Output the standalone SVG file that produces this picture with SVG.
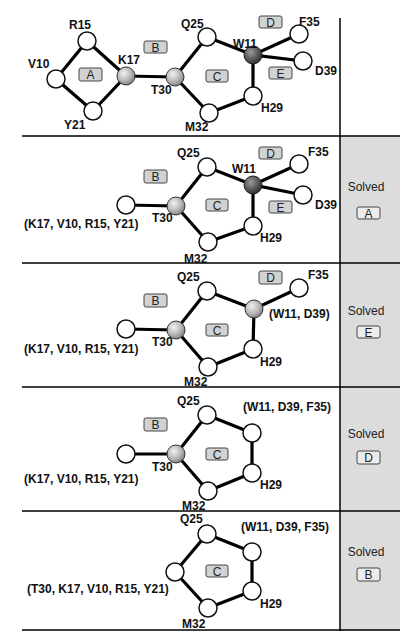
<svg xmlns="http://www.w3.org/2000/svg" width="408" height="638" viewBox="0 0 408 638">
<defs>
<radialGradient id="light" cx="0.38" cy="0.35" r="0.7">
<stop offset="0" stop-color="#f2f2f2"/>
<stop offset="0.6" stop-color="#b4b4b4"/>
<stop offset="1" stop-color="#7a7a7a"/>
</radialGradient>
<radialGradient id="dark" cx="0.38" cy="0.35" r="0.7">
<stop offset="0" stop-color="#9a9a9a"/>
<stop offset="0.6" stop-color="#555"/>
<stop offset="1" stop-color="#2a2a2a"/>
</radialGradient>
</defs>
<style>
.n{fill:#fff;stroke:#111;stroke-width:1.5}
.l{fill:url(#light);stroke:#333;stroke-width:1}
.d{fill:url(#dark);stroke:#222;stroke-width:1}
.e{stroke:#000;stroke-width:3.2;fill:none}
.t{font-family:"Liberation Sans",Arial,sans-serif;font-size:12px;font-weight:bold;fill:#111}
.r{font-family:"Liberation Sans",Arial,sans-serif;font-size:12px;fill:#222}
.bx{fill:#d2d2d2;stroke:#444;stroke-width:1}
.sb{fill:#ececec;stroke:#444;stroke-width:1}
.rule{stroke:#000;stroke-width:1.5}
</style>
<rect width="408" height="638" fill="#fff"/>
<rect x="340" y="136" width="60" height="495" fill="#dcdcdc"/>
<g id="frame">
<line class="rule" x1="340" y1="18" x2="340" y2="631"/>
<line class="rule" x1="22" y1="136" x2="400" y2="136"/>
<line class="rule" x1="22" y1="263" x2="400" y2="263"/>
<line class="rule" x1="22" y1="387" x2="400" y2="387"/>
<line class="rule" x1="22" y1="511" x2="400" y2="511"/>
<line class="rule" x1="22" y1="630" x2="400" y2="630"/>
</g>
<g id="connectors">
<!-- panel 1 -->
<line class="e" x1="56" y1="79" x2="87" y2="41"/>
<line class="e" x1="56" y1="79" x2="93" y2="111"/>
<line class="e" x1="87" y1="41" x2="126" y2="76"/>
<line class="e" x1="93" y1="111" x2="126" y2="76"/>
<line class="e" x1="126" y1="76" x2="175" y2="77"/>
<line class="e" x1="175" y1="77" x2="207" y2="37"/>
<line class="e" x1="175" y1="77" x2="209" y2="113"/>
<line class="e" x1="207" y1="37" x2="253" y2="55"/>
<line class="e" x1="253" y1="55" x2="299" y2="34"/>
<line class="e" x1="253" y1="55" x2="303" y2="61"/>
<line class="e" x1="253" y1="55" x2="253" y2="96"/>
<line class="e" x1="253" y1="96" x2="209" y2="113"/>
<!-- panel 2 -->
<line class="e" x1="126" y1="205" x2="176" y2="206"/>
<line class="e" x1="176" y1="206" x2="207" y2="167"/>
<line class="e" x1="176" y1="206" x2="208" y2="242"/>
<line class="e" x1="207" y1="167" x2="253" y2="185"/>
<line class="e" x1="253" y1="185" x2="299" y2="164"/>
<line class="e" x1="253" y1="185" x2="303" y2="195"/>
<line class="e" x1="253" y1="185" x2="253" y2="226"/>
<line class="e" x1="253" y1="226" x2="208" y2="242"/>
<!-- panel 3 -->
<line class="e" x1="126" y1="329" x2="176" y2="330"/>
<line class="e" x1="176" y1="330" x2="207" y2="291"/>
<line class="e" x1="176" y1="330" x2="208" y2="367"/>
<line class="e" x1="207" y1="291" x2="254" y2="309"/>
<line class="e" x1="254" y1="309" x2="299" y2="288"/>
<line class="e" x1="254" y1="309" x2="253" y2="349"/>
<line class="e" x1="253" y1="349" x2="208" y2="367"/>
<!-- panel 4 -->
<line class="e" x1="126" y1="454" x2="176" y2="454"/>
<line class="e" x1="176" y1="454" x2="207" y2="415"/>
<line class="e" x1="176" y1="454" x2="208" y2="491"/>
<line class="e" x1="207" y1="415" x2="252" y2="433"/>
<line class="e" x1="252" y1="433" x2="252" y2="473"/>
<line class="e" x1="252" y1="473" x2="208" y2="491"/>
<!-- panel 5 -->
<line class="e" x1="175" y1="572" x2="207" y2="534"/>
<line class="e" x1="175" y1="572" x2="208" y2="608"/>
<line class="e" x1="207" y1="534" x2="252" y2="552"/>
<line class="e" x1="252" y1="552" x2="252" y2="591"/>
<line class="e" x1="252" y1="591" x2="208" y2="608"/>
</g>
<!-- Panel 1 nodes -->
<g id="p1-R15"><circle class="n" cx="87" cy="41" r="9"/><text class="t" x="69" y="29">R15</text></g>
<g id="p1-V10"><circle class="n" cx="56" cy="79" r="9"/><text class="t" x="28" y="68">V10</text></g>
<g id="p1-Y21"><circle class="n" cx="93" cy="111" r="9"/><text class="t" x="64" y="129">Y21</text></g>
<g id="p1-K17"><circle class="l" cx="126" cy="76" r="9"/><text class="t" x="118" y="64">K17</text></g>
<g id="p1-T30"><circle class="l" cx="175" cy="77" r="9"/><text class="t" x="151" y="94">T30</text></g>
<g id="p1-Q25"><circle class="n" cx="207" cy="37" r="9"/><text class="t" x="181" y="28">Q25</text></g>
<g id="p1-W11"><circle class="d" cx="253" cy="55" r="9"/><text class="t" x="233" y="48">W11</text></g>
<g id="p1-F35"><circle class="n" cx="299" cy="34" r="9"/><text class="t" x="299" y="26">F35</text></g>
<g id="p1-D39"><circle class="n" cx="303" cy="61" r="9"/><text class="t" x="315" y="75">D39</text></g>
<g id="p1-H29"><circle class="n" cx="253" cy="96" r="9"/><text class="t" x="261" y="112">H29</text></g>
<g id="p1-M32"><circle class="n" cx="209" cy="113" r="9"/><text class="t" x="185" y="131">M32</text></g>
<g id="p1-boxes">
<rect class="bx" x="79" y="68" width="23" height="13" rx="2"/><text class="r" x="90.5" y="79" text-anchor="middle">A</text>
<rect class="bx" x="144" y="41" width="23" height="12" rx="2"/><text class="r" x="155.5" y="51.5" text-anchor="middle">B</text>
<rect class="bx" x="206" y="70" width="22" height="12" rx="2"/><text class="r" x="217" y="80.5" text-anchor="middle">C</text>
<rect class="bx" x="259" y="16" width="23" height="12" rx="2"/><text class="r" x="270.5" y="26.5" text-anchor="middle">D</text>
<rect class="bx" x="269" y="67" width="23" height="12" rx="2"/><text class="r" x="280.5" y="77.5" text-anchor="middle">E</text>
</g>
<!-- Panel 2 -->
<g id="p2-KVRY"><circle class="n" cx="126" cy="205" r="9"/><text class="t" x="24" y="228">(K17, V10, R15, Y21)</text></g>
<g id="p2-T30"><circle class="l" cx="176" cy="206" r="9"/><text class="t" x="152" y="222">T30</text></g>
<g id="p2-Q25"><circle class="n" cx="207" cy="167" r="9"/><text class="t" x="177" y="157">Q25</text></g>
<g id="p2-W11"><circle class="d" cx="253" cy="185" r="9"/><text class="t" x="232" y="173">W11</text></g>
<g id="p2-F35"><circle class="n" cx="299" cy="164" r="9"/><text class="t" x="308" y="156">F35</text></g>
<g id="p2-D39"><circle class="n" cx="303" cy="195" r="9"/><text class="t" x="315" y="209">D39</text></g>
<g id="p2-H29"><circle class="n" cx="253" cy="226" r="9"/><text class="t" x="260" y="242">H29</text></g>
<g id="p2-M32"><circle class="n" cx="208" cy="242" r="9"/><text class="t" x="184" y="263">M32</text></g>
<g id="p2-boxes">
<rect class="bx" x="144" y="170" width="23" height="13" rx="2"/><text class="r" x="155.5" y="181" text-anchor="middle">B</text>
<rect class="bx" x="206" y="199" width="22" height="12" rx="2"/><text class="r" x="217" y="209.5" text-anchor="middle">C</text>
<rect class="bx" x="259" y="147" width="23" height="12" rx="2"/><text class="r" x="270.5" y="157.5" text-anchor="middle">D</text>
<rect class="bx" x="269" y="201" width="23" height="12" rx="2"/><text class="r" x="280.5" y="211.5" text-anchor="middle">E</text>
</g>
<g id="p2-solved"><text class="r" x="366" y="191" text-anchor="middle">Solved</text><rect class="sb" x="357" y="207" width="23" height="12" rx="2"/><text class="r" x="368.5" y="217.5" text-anchor="middle">A</text></g>
<!-- Panel 3 -->
<g id="p3-KVRY"><circle class="n" cx="126" cy="329" r="9"/><text class="t" x="24" y="353">(K17, V10, R15, Y21)</text></g>
<g id="p3-T30"><circle class="l" cx="176" cy="330" r="9"/><text class="t" x="152" y="346">T30</text></g>
<g id="p3-Q25"><circle class="n" cx="207" cy="291" r="9"/><text class="t" x="177" y="281">Q25</text></g>
<g id="p3-WD"><circle class="l" cx="254" cy="309" r="9"/><text class="t" x="269" y="318">(W11, D39)</text></g>
<g id="p3-F35"><circle class="n" cx="299" cy="288" r="9"/><text class="t" x="308" y="279">F35</text></g>
<g id="p3-H29"><circle class="n" cx="253" cy="349" r="9"/><text class="t" x="260" y="366">H29</text></g>
<g id="p3-M32"><circle class="n" cx="208" cy="367" r="9"/><text class="t" x="184" y="386">M32</text></g>
<g id="p3-boxes">
<rect class="bx" x="144" y="294" width="23" height="13" rx="2"/><text class="r" x="155.5" y="305" text-anchor="middle">B</text>
<rect class="bx" x="206" y="324" width="22" height="12" rx="2"/><text class="r" x="217" y="334.5" text-anchor="middle">C</text>
<rect class="bx" x="259" y="271" width="23" height="13" rx="2"/><text class="r" x="270.5" y="282" text-anchor="middle">D</text>
</g>
<g id="p3-solved"><text class="r" x="366" y="315" text-anchor="middle">Solved</text><rect class="sb" x="357" y="326" width="23" height="12" rx="2"/><text class="r" x="368.5" y="336.5" text-anchor="middle">E</text></g>
<!-- Panel 4 -->
<g id="p4-KVRY"><circle class="n" cx="126" cy="454" r="9"/><text class="t" x="24" y="483">(K17, V10, R15, Y21)</text></g>
<g id="p4-T30"><circle class="l" cx="176" cy="454" r="9"/><text class="t" x="152" y="471">T30</text></g>
<g id="p4-Q25"><circle class="n" cx="207" cy="415" r="9"/><text class="t" x="177" y="405">Q25</text></g>
<g id="p4-WDF"><circle class="n" cx="252" cy="433" r="9"/><text class="t" x="243" y="411">(W11, D39, F35)</text></g>
<g id="p4-H29"><circle class="n" cx="252" cy="473" r="9"/><text class="t" x="260" y="489">H29</text></g>
<g id="p4-M32"><circle class="n" cx="208" cy="491" r="9"/><text class="t" x="182" y="510">M32</text></g>
<g id="p4-boxes">
<rect class="bx" x="144" y="418" width="23" height="13" rx="2"/><text class="r" x="155.5" y="429" text-anchor="middle">B</text>
<rect class="bx" x="206" y="448" width="22" height="12" rx="2"/><text class="r" x="217" y="458.5" text-anchor="middle">C</text>
</g>
<g id="p4-solved"><text class="r" x="366" y="438" text-anchor="middle">Solved</text><rect class="sb" x="357" y="451" width="23" height="13" rx="2"/><text class="r" x="368.5" y="462" text-anchor="middle">D</text></g>
<!-- Panel 5 -->
<g id="p5-TKVRY"><circle class="n" cx="175" cy="572" r="9"/><text class="t" x="27" y="593">(T30, K17, V10, R15, Y21)</text></g>
<g id="p5-Q25"><circle class="n" cx="207" cy="534" r="9"/><text class="t" x="180" y="523">Q25</text></g>
<g id="p5-WDF"><circle class="n" cx="252" cy="552" r="9"/><text class="t" x="241" y="531">(W11, D39, F35)</text></g>
<g id="p5-H29"><circle class="n" cx="252" cy="591" r="9"/><text class="t" x="260" y="608">H29</text></g>
<g id="p5-M32"><circle class="n" cx="208" cy="608" r="9"/><text class="t" x="182" y="628">M32</text></g>
<g id="p5-boxes">
<rect class="bx" x="206" y="565" width="22" height="12" rx="2"/><text class="r" x="217" y="575.5" text-anchor="middle">C</text>
</g>
<g id="p5-solved"><text class="r" x="366" y="556" text-anchor="middle">Solved</text><rect class="sb" x="357" y="568" width="23" height="13" rx="2"/><text class="r" x="368.5" y="579" text-anchor="middle">B</text></g>
</svg>
